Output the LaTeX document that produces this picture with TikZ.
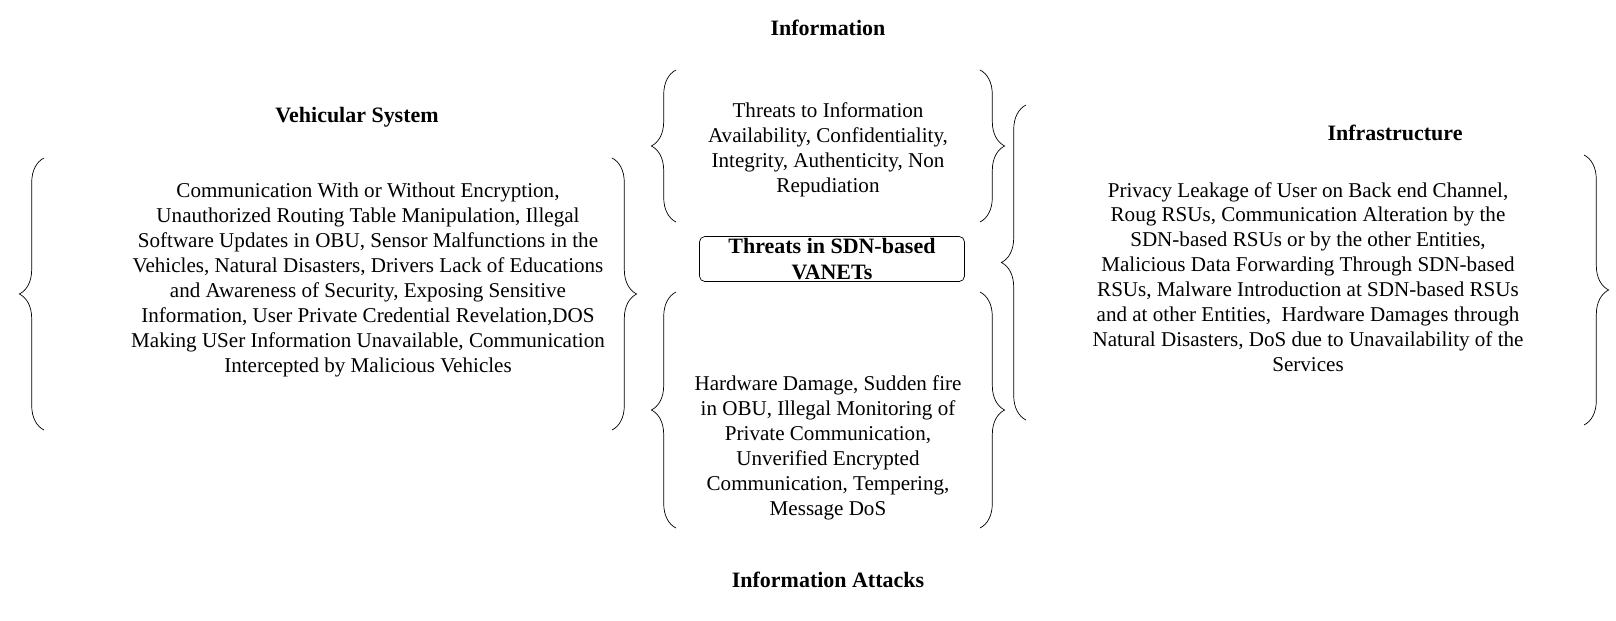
\documentclass[tikz,border=0pt]{standalone}
\usepackage{fontspec}
\setmainfont{Liberation Serif}
\usetikzlibrary{positioning,decorations.pathreplacing}
\tikzset{
  txt/.style={align=center,font=\fontsize{12}{14.2}\selectfont,inner sep=0pt},
  ttl/.style={font=\fontsize{12.5}{14}\selectfont\bfseries,inner sep=0pt},
  brc/.style={decorate,decoration={brace,amplitude=14pt},thin}
}
\begin{document}
\begin{tikzpicture}[x=0.02cm,y=-0.02cm]
\useasboundingbox (0,0) rectangle (1616,620);

% titles
\node[ttl] (info) at (828,28) {Information};
\node[ttl] (veh) at (357,117) {Vehicular System};
\node[ttl] (infra) at (1395,133) {Infrastructure};
\node[ttl] (attk) at (828,580) {Information Attacks};

% centre box
\node[draw,rounded corners=3pt,thin,minimum width=5.3cm,minimum height=0.9cm,
      align=center,font=\fontsize{12.5}{15}\selectfont\bfseries,inner sep=0pt] (core) at (832,259)
      {Threats in SDN-based\\VANETs};

% texts
\node[txt] (tinfo) at (828,150) {Threats to Information\\Availability, Confidentiality,\\Integrity, Authenticity, Non\\Repudiation};
\node[txt] (tveh) at (368,280) {Communication With or Without Encryption,\\Unauthorized Routing Table Manipulation, Illegal\\Software Updates in OBU, Sensor Malfunctions in the\\Vehicles, Natural Disasters, Drivers Lack of Educations\\and Awareness of Security, Exposing Sensitive\\Information, User Private Credential Revelation,DOS\\Making USer Information Unavailable, Communication\\Intercepted by Malicious Vehicles};
\node[txt] (tattk) at (828,448) {Hardware Damage, Sudden fire\\in OBU, Illegal Monitoring of\\Private Communication,\\Unverified Encrypted\\Communication, Tempering,\\Message DoS};
\node[txt] (tinfra) at (1308,277) {Privacy Leakage of User on Back end Channel,\\Roug RSUs, Communication Alteration by the\\SDN-based RSUs or by the other Entities,\\Malicious Data Forwarding Through SDN-based\\RSUs, Malware Introduction at SDN-based RSUs\\and at other Entities,\ \ Hardware Damages through\\Natural Disasters, DoS due to Unavailability of the\\Services};

% braces
\draw[brc] (44,430) -- (44,158);
\draw[brc] (612,158) -- (612,430);
\draw[brc] (676,222) -- (676,70);
\draw[brc] (980,70) -- (980,222);
\draw[brc] (676,528) -- (676,292);
\draw[brc] (980,292) -- (980,528);
\draw[brc] (1026,420) -- (1026,105);
\draw[brc] (1584,155) -- (1584,425);
\end{tikzpicture}
\end{document}
